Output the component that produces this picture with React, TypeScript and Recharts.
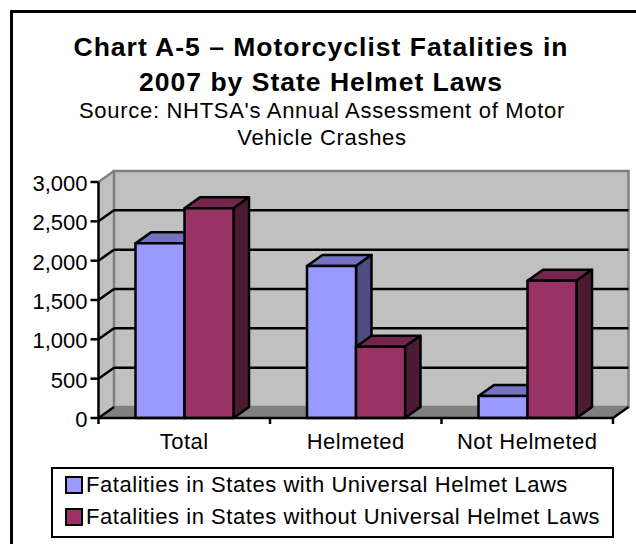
import React from 'react';
import {
  BarChart,
  Bar,
  XAxis,
  YAxis,
  CartesianGrid,
  Legend,
} from 'recharts';

const categories = ['Total', 'Helmeted', 'Not Helmeted'];
const universalLaw = [2220, 1932, 280];
const noUniversalLaw = [2665, 906, 1745];
const yTicks = [0, 500, 1000, 1500, 2000, 2500, 3000];

const UNIVERSAL_NAME = 'Fatalities in States with Universal Helmet Laws';
const NO_UNIVERSAL_NAME = 'Fatalities in States without Universal Helmet Laws';

const chartData = categories.map((name, i) => ({
  name,
  universal: universalLaw[i],
  noUniversal: noUniversalLaw[i],
}));

const FONT = '"Liberation Sans", Arial, sans-serif';
const WIDTH = 636;
const HEIGHT = 544;
const PLOT_LEFT = 98.5;
const PLOT_RIGHT = 613;
const PLOT_TOP = 182;
const PLOT_BOTTOM = 418;
// offset of the back wall from the front plane
const DEPTH_X = 15.5;
const DEPTH_Y = 11;
const BAND = (PLOT_RIGHT - PLOT_LEFT) / categories.length;
const LINE = 2.5;

const Label = ({ x, y, anchor = 'middle', size = 22, bold = false, spacing = 0, children }: any) => (
  <text
    x={x}
    y={y}
    textAnchor={anchor}
    fontFamily={FONT}
    fontSize={size}
    fontWeight={bold ? 'bold' : 'normal'}
    letterSpacing={spacing}
    fill="#000"
  >
    {children}
  </text>
);

// Wall and floor of the fake 3D box, sized from the plot area
const BackWall = ({ x, y, width, height }: any) => {
  const bottom = y + height;
  const right = x + width;
  return (
    <g>
      <polygon
        points={`${x},${y} ${x + DEPTH_X},${y - DEPTH_Y} ${x + DEPTH_X},${bottom - DEPTH_Y} ${x},${bottom}`}
        fill="#C0C0C0"
      />
      <rect
        x={x + DEPTH_X}
        y={y - DEPTH_Y}
        width={width}
        height={height}
        fill="#C0C0C0"
        stroke="#808080"
        strokeWidth={LINE}
      />
      <polygon
        points={`${x},${bottom} ${x + DEPTH_X},${bottom - DEPTH_Y} ${right + DEPTH_X},${bottom - DEPTH_Y} ${right},${bottom}`}
        fill="#808080"
      />
    </g>
  );
};

// Grid line running along the side wall and then along the back wall.
// The wall goes in with the first line so that every line sits on it.
const GridLine = ({ x, y, width, height, x1, x2, y1, index }: any) => {
  const isTop = Math.abs(y1 - PLOT_TOP) < 1;
  const isBottom = Math.abs(y1 - PLOT_BOTTOM) < 1;
  return (
    <g key={index}>
      {index === 0 && <BackWall x={x} y={y} width={width} height={height} />}
      <line
        x1={x1}
        y1={y1}
        x2={x1 + DEPTH_X}
        y2={y1 - DEPTH_Y}
        stroke={isTop ? '#808080' : '#000'}
        strokeWidth={LINE}
      />
      {!isTop && !isBottom && (
        <line
          x1={x1 + DEPTH_X}
          y1={y1 - DEPTH_Y}
          x2={x2 + DEPTH_X}
          y2={y1 - DEPTH_Y}
          stroke="#000"
          strokeWidth={LINE}
        />
      )}
      {isBottom && (
        <line
          x1={x2}
          y1={y1}
          x2={x2 + DEPTH_X}
          y2={y1 - DEPTH_Y}
          stroke="#000"
          strokeWidth={LINE}
        />
      )}
    </g>
  );
};

// Bar with a lit top and a shaded side
const Bar3D = ({ x, y, width, height, fill, topFill, sideFill }: any) => {
  if (!height) return null;
  const right = x + width;
  const bottom = y + height;
  return (
    <g stroke="#000" strokeWidth={LINE} strokeLinejoin="round">
      <polygon
        points={`${x},${y} ${x + DEPTH_X},${y - DEPTH_Y} ${right + DEPTH_X},${y - DEPTH_Y} ${right},${y}`}
        fill={topFill}
      />
      <polygon
        points={`${right},${y} ${right + DEPTH_X},${y - DEPTH_Y} ${right + DEPTH_X},${bottom - DEPTH_Y} ${right},${bottom}`}
        fill={sideFill}
      />
      <rect x={x} y={y} width={width} height={height} fill={fill} />
    </g>
  );
};

// Category label, with the tick marks on the band edges
const CategoryTick = ({ x, payload, index }: any) => {
  const left = x - BAND / 2;
  const isLast = index === categories.length - 1;
  return (
    <g>
      <line x1={left} y1={PLOT_BOTTOM} x2={left} y2={PLOT_BOTTOM + 6} stroke="#000" strokeWidth={LINE} />
      {isLast && (
        <line
          x1={left + BAND}
          y1={PLOT_BOTTOM}
          x2={left + BAND}
          y2={PLOT_BOTTOM + 6}
          stroke="#000"
          strokeWidth={LINE}
        />
      )}
      <Label x={x} y={449} spacing={0.5}>
        {payload.value}
      </Label>
    </g>
  );
};

const ValueTick = ({ x, y, payload }: any) => (
  <Label x={x - 1} y={y + 9} anchor="end">
    {Number(payload.value).toLocaleString('en-US')}
  </Label>
);

const LegendBox = ({ payload }: any) => (
  <div
    style={{
      boxSizing: 'border-box',
      width: 563,
      height: 71,
      border: '2.5px solid #000',
      background: '#fff',
      paddingLeft: 12,
      fontFamily: FONT,
      fontSize: 22,
      letterSpacing: 0.55,
      color: '#000',
    }}
  >
    {(payload || []).map((item: any) => (
      <div key={item.value} style={{ display: 'flex', alignItems: 'center', height: 32, whiteSpace: 'nowrap' }}>
        <span
          style={{
            boxSizing: 'border-box',
            display: 'inline-block',
            width: 18,
            height: 18,
            marginRight: 3,
            border: '2px solid #000',
            background: item.color,
          }}
        />
        {item.value}
      </div>
    ))}
  </div>
);

const TitleBlock = () => (
  <g>
    <Label x={321} y={55.5} size={26.5} bold spacing={1}>
      Chart A-5 – Motorcyclist Fatalities in
    </Label>
    <Label x={321} y={91} size={26.5} bold spacing={1}>
      2007 by State Helmet Laws
    </Label>
    <Label x={322} y={118} spacing={0.7}>
      Source: NHTSA's Annual Assessment of Motor
    </Label>
    <Label x={322} y={145} spacing={0.7}>
      Vehicle Crashes
    </Label>
  </g>
);

export default function App() {
  return (
    <div style={{ position: 'absolute', left: 0, top: 0, width: WIDTH, height: HEIGHT, overflow: 'hidden', background: '#fff' }}>
      {/* outer frame runs off the right and bottom of the picture */}
      <div
        style={{
          position: 'absolute',
          left: 10,
          top: 10,
          width: WIDTH + 20,
          height: HEIGHT + 20,
          border: '3px solid #000',
        }}
      />
      <div style={{ position: 'absolute', left: 0, top: 0 }}>
        <BarChart
          width={WIDTH}
          height={HEIGHT}
          data={chartData}
          margin={{ top: PLOT_TOP, left: 0, right: WIDTH - PLOT_RIGHT, bottom: 0 }}
          barCategoryGap={37}
          barGap={0}
        >
          <CartesianGrid vertical={false} horizontal={(props: any) => <GridLine {...props} />} />
          <XAxis
            dataKey="name"
            height={HEIGHT - PLOT_BOTTOM}
            axisLine={{ stroke: '#000', strokeWidth: LINE }}
            tickLine={false}
            interval={0}
            tick={<CategoryTick />}
          />
          <YAxis
            domain={[0, 3000]}
            ticks={yTicks}
            width={PLOT_LEFT}
            interval={0}
            axisLine={{ stroke: '#000', strokeWidth: LINE }}
            tickLine={{ stroke: '#000', strokeWidth: LINE }}
            tickSize={8}
            tick={<ValueTick />}
          />
          <Bar
            dataKey="universal"
            name={UNIVERSAL_NAME}
            fill="#9999FF"
            isAnimationActive={false}
            shape={(props: any) => <Bar3D {...props} topFill="#7373BF" sideFill="#4D4D80" />}
          />
          <Bar
            dataKey="noUniversal"
            name={NO_UNIVERSAL_NAME}
            fill="#993366"
            isAnimationActive={false}
            shape={(props: any) => <Bar3D {...props} topFill="#73264D" sideFill="#4D1A33" />}
          />
          <Legend
            layout="horizontal"
            verticalAlign="middle"
            content={<LegendBox />}
            wrapperStyle={{ position: 'absolute', left: 51, top: 467, width: 563, height: 71 }}
          />
          <TitleBlock />
        </BarChart>
      </div>
    </div>
  );
}
